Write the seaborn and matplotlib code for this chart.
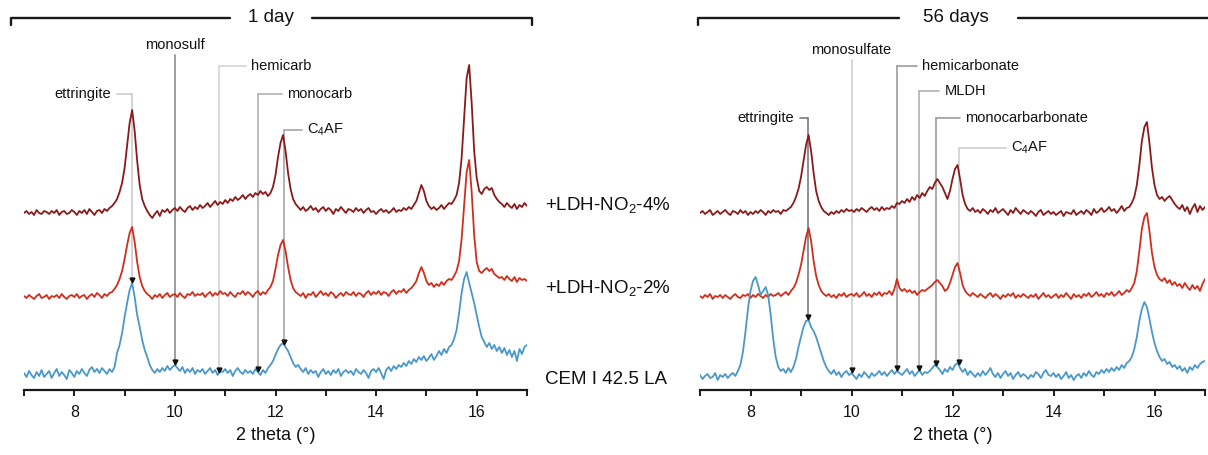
import numpy as np
import matplotlib.pyplot as plt
import seaborn as sns

# XRD patterns, 2 theta from 7 to 17 deg in 0.05 steps
two_theta = np.round(np.arange(7.0, 17.0001, 0.05), 2)

# ---- 1 day ----
day1_ldh4 = [
    0, 2, -1, 1, -2, 3, 0, -1, 2, 1,
    -1, 2, 0, 3, -2, 1, 2, -1, 0, 3,
    1, -2, 2, 0, 3, -1, 4, 1, -2, 2,
    3, 0, 4, 2, 5, 7, 10, 14, 21, 30,
    45, 68, 90, 103, 82, 52, 28, 14, 7, 2,
    -2, -5, -1, 2, -3, 3, 1, 4, 0, 3,
    5, 2, 6, 3, 1, 5, 7, 3, 6, 4,
    8, 5, 7, 10, 6, 9, 12, 8, 11, 9,
    13, 10, 14, 12, 16, 13, 15, 18, 14, 17,
    19, 16, 20, 18, 22, 19, 21, 17, 20, 26,
    38, 56, 70, 78, 62, 40, 24, 14, 9, 6,
    3, 6, 2, 4, 7, 3, 5, 1, 4, 6,
    2, 5, 3, -1, 4, 2, 6, 3, 0, 4,
    3, 1, 5, 2, 4, 0, 3, 5, 1, 2,
    -1, 2, 4, 1, 3, 0, 2, 5, 1, 3,
    2, 5, 3, 6, 4, 8, 12, 20, 28, 22,
    12, 7, 4, 6, 3, 5, 8, 4, 7, 10,
    9, 13, 18, 30, 55, 95, 135, 148, 110, 62,
    35, 22, 19, 24, 26, 23, 25, 18, 14, 11,
    9, 6, 10, 7, 5, 9, 4, 8, 6, 10,
    7]
day1_ldh2 = [
    1, -1, 2, 0, -2, 1, 3, -1, 0, 2,
    -2, 1, 0, 2, -1, 3, 0, -2, 1, 2,
    0, 3, -1, 1, 2, -2, 1, 3, 0, 4,
    2, -1, 3, 1, 4, 5, 8, 12, 18, 26,
    38, 52, 64, 70, 55, 35, 20, 11, 6, 3,
    1, -2, 2, 0, 3, -1, 2, 4, 0, 2,
    3, 0, 4, 1, -1, 3, 2, 5, 1, 3,
    2, 4, 0, 3, 5, 1, 4, 2, 6, 3,
    4, 1, 5, 2, 0, 4, 3, 6, 2, 5,
    3, 0, 4, 6, 2, 5, 3, 7, 10, 16,
    28, 42, 52, 57, 46, 30, 17, 9, 5, 3,
    1, 4, -1, 3, 2, 5, 0, 3, 6, 2,
    4, 1, 5, 3, -1, 2, 4, 1, 5, 3,
    2, 5, 1, 4, 3, 0, 4, 6, 2, 5,
    3, 6, 2, 5, 4, 1, 5, 7, 3, 6,
    5, 8, 4, 7, 9, 12, 16, 24, 30, 24,
    16, 12, 14, 10, 13, 11, 15, 12, 16, 18,
    17, 21, 26, 36, 58, 92, 125, 137, 105, 62,
    35, 26, 24, 27, 29, 26, 28, 23, 21, 19,
    20, 17, 21, 18, 16, 20, 15, 19, 17, 18,
    16]
day1_cem = [
    2, -2, 4, 0, -3, 3, -1, 5, -2, 1,
    4, -3, 2, 6, -1, 3, 0, -4, 5, 2,
    -2, 4, 1, 6, 2, -1, 5, 8, 3, 6,
    2, 7, 4, 1, 6, 3, 8, 22, 30, 42,
    58, 72, 85, 92, 78, 60, 48, 35, 25, 18,
    10, 5, 2, 6, 3, 7, 4, 9, 5, 8,
    10, 7, 4, 8, 2, 6, 3, 7, 1, 5,
    3, 6, 1, 4, 7, 2, 5, 0, 4, 3,
    6, 2, 5, -1, 4, 7, 3, 1, 5, 2,
    4, 1, 6, 3, 0, 5, 2, 7, 10, 14,
    20, 26, 30, 32, 28, 24, 18, 12, 8, 10,
    6, 3, 7, 1, 5, 2, 4, -2, 3, 6,
    1, 4, 0, 5, 2, 6, -1, 3, 5, 2,
    4, 0, 6, 3, 1, 5, 2, -3, 4, 6,
    3, 7, 2, -4, 5, 8, 4, 9, 6, 10,
    8, 12, 9, 14, 11, 16, 13, 18, 15, 19,
    14, 17, 21, 15, 19, 24, 20, 26, 22, 28,
    30, 36, 45, 62, 82, 96, 103, 92, 82, 72,
    60, 48, 38, 33, 28, 32, 26, 30, 24, 28,
    22, 27, 20, 25, 18, 24, 14, 26, 21, 28,
    30]

# ---- 56 days ----
day56_ldh4 = [
    0, 2, -1, 1, 3, -2, 0, 2, -1, 1,
    3, 0, -2, 2, 1, -1, 3, 0, 2, -2,
    1, -1, 2, 0, 3, 1, -2, 2, 0, 3,
    1, 2, -1, 3, 2, 4, 6, 10, 16, 24,
    36, 52, 68, 78, 62, 40, 22, 12, 6, 2,
    0, -2, 1, -1, 2, 0, 3, 1, 4, 2,
    3, 1, 4, 2, 5, 3, 1, 4, 6, 3,
    5, 2, 6, 3, 5, 4, 7, 5, 10, 9,
    12, 10, 14, 11, 16, 13, 18, 15, 20, 17,
    22, 26, 24, 30, 34, 30, 26, 20, 14, 22,
    34, 44, 48, 34, 18, 9, 4, 2, 5, 1,
    3, 0, 4, 2, -1, 3, 1, 5, 0, 2,
    4, 1, -2, 3, 0, 5, 2, -1, 3, 1,
    -1, 2, 0, -3, 1, 3, -2, 0, 2, -1,
    1, -2, 0, 2, -3, 1, 0, -1, 3, -2,
    0, 2, -1, 3, 1, -2, 4, 0, 2, 5,
    1, 3, 6, 2, 4, 0, 3, 7, 2, 5,
    6, 10, 16, 28, 48, 72, 86, 91, 70, 45,
    28, 18, 14, 16, 12, 15, 17, 13, 9, 6,
    4, 8, 2, 6, -1, 5, 9, 1, 7, 3,
    6]
day56_ldh2 = [
    1, -1, 2, 0, 3, -2, 1, 0, 2, -1,
    2, 0, -2, 1, 3, 0, -1, 2, 1, 3,
    -1, 2, 0, 3, 1, -1, 2, 0, 3, 1,
    2, 4, 1, 3, 5, 2, 6, 9, 14, 22,
    32, 46, 60, 69, 56, 36, 21, 12, 6, 3,
    1, 3, 0, 2, -1, 3, 1, 4, 0, 2,
    3, 1, 4, 0, 2, 5, 1, 3, 0, 4,
    2, 5, 1, 4, 3, 6, 2, 8, 18, 9,
    6, 8, 5, 7, 4, 6, 2, 5, 7, 6,
    8, 10, 12, 15, 17, 14, 11, 6, 8, 14,
    22, 30, 34, 24, 12, 6, 3, 1, 4, 2,
    0, 3, 1, -1, 2, 4, 0, 3, 1, -2,
    2, 0, 3, 1, 4, -1, 2, 0, 3, 1,
    -1, 2, 0, 3, -2, 1, 4, 0, 2, -1,
    1, 3, -1, 2, 0, 4, 1, -2, 3, 0,
    2, -1, 3, 1, 4, 0, 2, 5, 1, 3,
    0, 4, 2, 5, 1, 3, 6, 2, 4, 7,
    5, 9, 14, 26, 46, 68, 80, 84, 66, 44,
    30, 22, 18, 16, 19, 14, 17, 12, 15, 11,
    13, 9, 14, 10, 7, 12, 8, 11, 6, 13,
    18]
day56_cem = [
    2, -2, 1, 3, -1, 0, 4, -3, 2, 0,
    3, -1, 2, 4, 1, 6, 12, 25, 45, 68,
    86, 96, 100, 92, 82, 86, 90, 82, 62, 38,
    20, 10, 6, 8, 4, 9, 5, 10, 18, 30,
    40, 50, 56, 57, 50, 46, 40, 32, 24, 16,
    10, 6, 3, 7, 2, 5, 0, 4, 6, 2,
    4, 1, -2, 3, 0, 5, 2, -1, 4, 1,
    3, 6, 2, 5, 1, 4, 7, 3, 6, 4,
    2, 5, 8, 3, 6, 1, 4, 7, 2, 5,
    4, 6, 9, 12, 10, 7, 3, 8, 5, 10,
    7, 12, 14, 9, 5, 8, 2, 6, 3, 0,
    4, 1, 6, 2, 5, 9, 3, 0, 4, -1,
    3, 6, 1, 4, -2, 2, 5, 0, 3, 1,
    -2, 2, 0, 5, 3, -1, 4, 7, 2, 1,
    4, 0, 3, -2, 1, 5, -1, 2, -3, 1,
    3, -1, 4, 1, 6, 2, 0, 5, 3, 7,
    4, 8, 5, 9, 6, 10, 7, 12, 9, 14,
    16, 20, 28, 40, 56, 68, 75, 70, 58, 45,
    34, 26, 20, 16, 18, 13, 15, 10, 12, 8,
    11, 6, 9, 4, 10, 7, 12, 9, 13, 15,
    16]

sample_names = ['+LDH-NO$_2$-4%', '+LDH-NO$_2$-2%', 'CEM I 42.5 LA']
trace_colors = ['#8a1a1a', '#d02e1d', '#4a98c9']

# phase markers: name, 2 theta
phases_1d = [('ettringite', 9.15), ('monosulf', 10.0), ('hemicarb', 10.88),
             ('monocarb', 11.65), ('C$_4$AF', 12.17)]
phases_56d = [('ettringite', 9.14), ('monosulfate', 10.0), ('hemicarbonate', 10.9),
              ('MLDH', 11.33), ('monocarbarbonate', 11.68), ('C$_4$AF', 12.12)]

# layout of marker labels: (label height, tick length, line colour, side)
layout_1d = [(296, 0.30, '#cccccc', 'left'), (345, 0, '#8c8c8c', 'top'),
             (324, 0.53, '#d4d4d4', 'right'), (296, 0.48, '#b0b0b0', 'right'),
             (260, 0.36, '#a6a6a6', 'right')]
layout_56d = [(272, 0.16, '#7c7c7c', 'left'), (340, 0, '#d0d0d0', 'top'),
              (324, 0.40, '#9c9c9c', 'right'), (299, 0.41, '#b0b0b0', 'right'),
              (272, 0.46, '#9c9c9c', 'right'), (242, 0.93, '#d0d0d0', 'right')]

offsets_1d = [177, 93, 15]
offsets_56d = [177, 93, 13]

sns.set_theme(style='white')
plt.rcParams['font.family'] = ['Liberation Sans', 'DejaVu Sans']
plt.rcParams['mathtext.default'] = 'regular'
plt.rcParams['text.color'] = '#111111'
plt.rcParams['xtick.color'] = '#111111'
plt.rcParams['axes.labelcolor'] = '#111111'

W, H = 1208, 455
fig = plt.figure(figsize=(W / 100, H / 100), dpi=100)
ax1 = fig.add_axes([24 / W, 65 / H, 503 / W, 380 / H])
ax2 = fig.add_axes([700 / W, 65 / H, 505 / W, 380 / H])


def draw_panel(ax, traces, offsets, phases, layout, title, bracket):
    for vals, off, col in zip(traces, offsets, trace_colors):
        sns.lineplot(x=two_theta, y=np.array(vals) + off, color=col,
                     lw=1.3, ax=ax, legend=False, zorder=3)
    cem = np.array(traces[2]) + offsets[2]
    for (name, pos), (ly, tick, col, side) in zip(phases, layout):
        yend = np.interp(pos, two_theta, cem) + 3
        ax.plot([pos, pos], [ly if side != 'top' else ly - 10, yend],
                color=col, lw=1.2, zorder=1)
        ax.plot([pos], [yend], marker='v', ms=3.5, color='#111111', zorder=4)
        if side == 'left':
            ax.plot([pos - tick, pos], [ly, ly], color=col, lw=1.2)
            ax.text(pos - tick - 0.12, ly, name, ha='right', va='center', fontsize=10.5)
        elif side == 'right':
            ax.plot([pos, pos + tick], [ly, ly], color=col, lw=1.2)
            ax.text(pos + tick + 0.1, ly, name, ha='left', va='center', fontsize=10.5)
        else:
            ax.text(pos, ly, name, ha='center', va='center', fontsize=10.5)

    # bracket with title
    x0, xa, xb, x1, xt = bracket
    yb = 372
    kw = dict(color='#1a1a1a', lw=1.7, clip_on=False)
    ax.plot([x0, x0, xa], [yb - 7, yb, yb], **kw)
    ax.plot([xb, x1, x1], [yb, yb, yb - 7], **kw)
    ax.text(xt, yb, title, ha='center', va='center', fontsize=13.5, clip_on=False)

    ax.set_xlim(7, 17)
    ax.set_ylim(0, 380)
    ax.set_yticks([])
    for s in ['left', 'right', 'top']:
        ax.spines[s].set_visible(False)
    ax.spines['bottom'].set_linewidth(1.6)
    ax.spines['bottom'].set_color('#1a1a1a')
    ax.set_xticks([8, 10, 12, 14, 16])
    ax.set_xticks([7, 9, 11, 13, 15, 17], minor=True)
    ax.tick_params(axis='x', which='both', direction='out', length=4, width=1.4,
                   color='#1a1a1a', bottom=True, labelsize=11.5, pad=7)
    ax.set_xlabel('2 theta (°)', fontsize=13, labelpad=5)
    ax.set_ylabel('')


draw_panel(ax1, [day1_ldh4, day1_ldh2, day1_cem], offsets_1d, phases_1d, layout_1d,
           '1 day', (6.74, 11.10, 12.73, 17.10, 11.91))
draw_panel(ax2, [day56_ldh4, day56_ldh2, day56_cem], offsets_56d, phases_56d, layout_56d,
           '56 days', (6.96, 10.95, 13.29, 17.08, 12.06))

for name, y in zip(sample_names, [185, 102, 10]):
    ax1.text(17.36, y, name, ha='left', va='center', fontsize=13.5, clip_on=False)

fig.savefig('out.png', dpi=100)
